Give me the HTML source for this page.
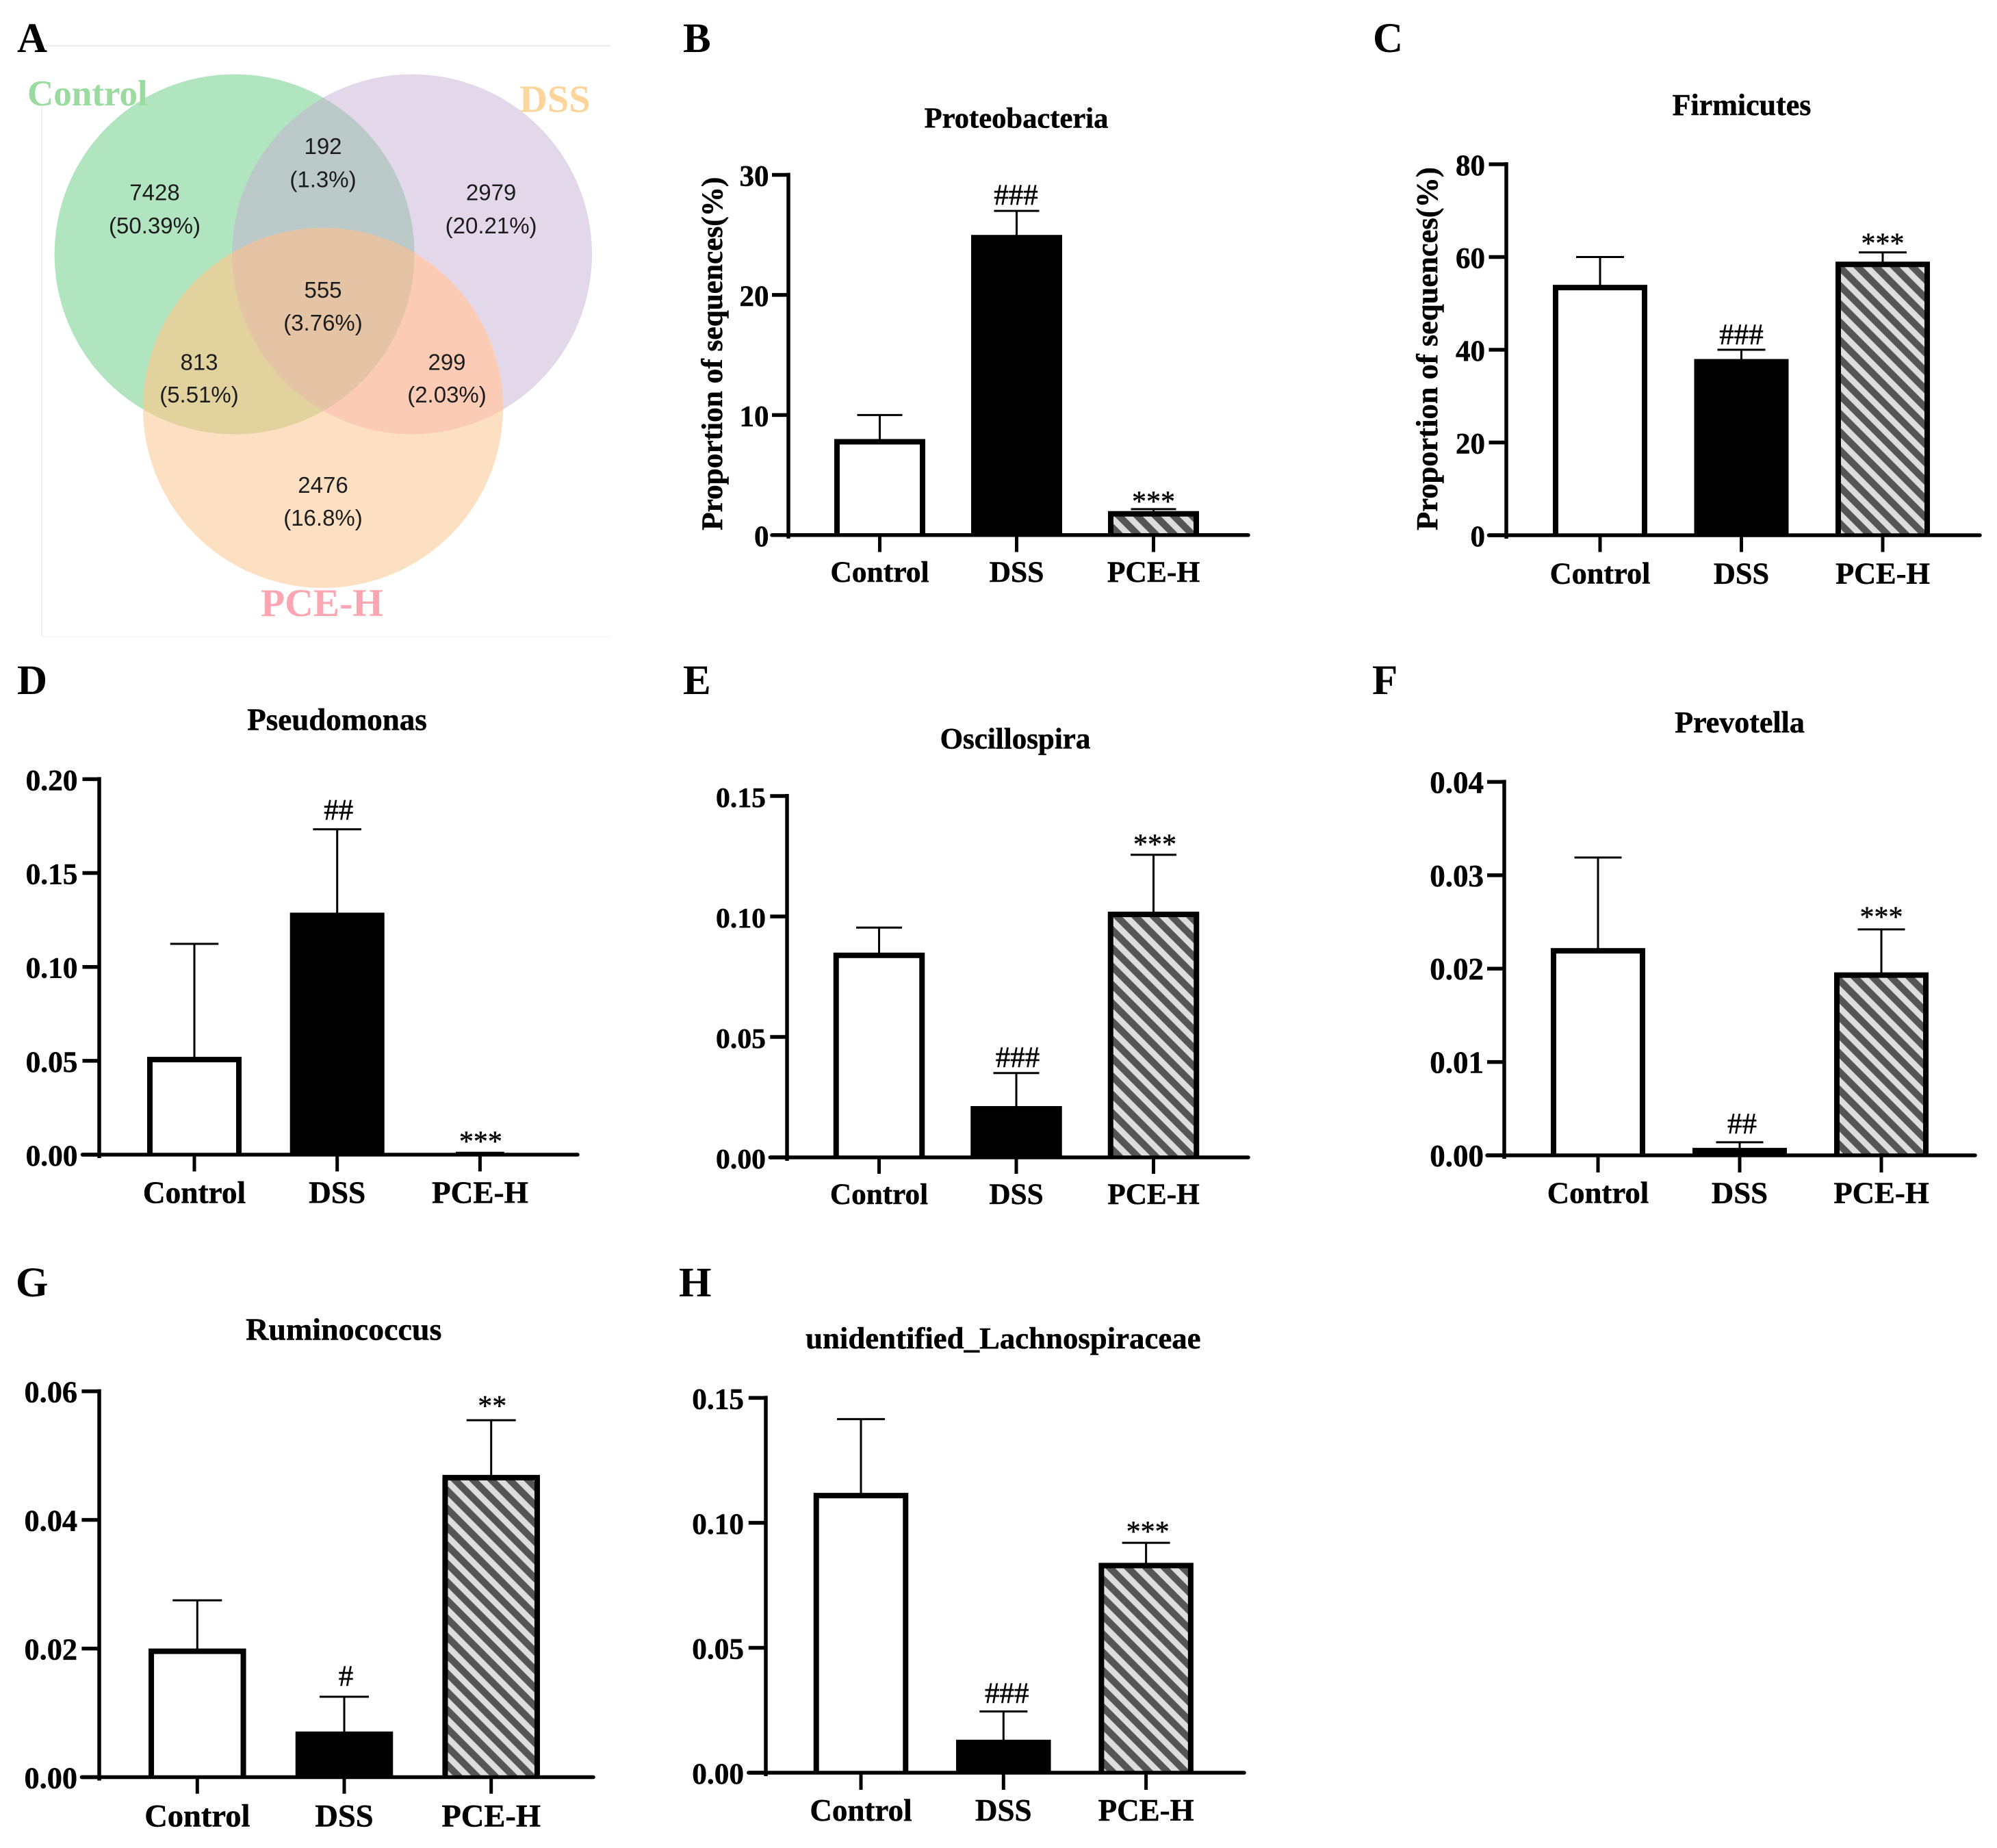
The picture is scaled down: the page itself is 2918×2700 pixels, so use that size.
<!DOCTYPE html>
<html lang="en">
<head>
<meta charset="utf-8">
<title>Microbiome composition figure</title>
<style>
  html, body { margin: 0; padding: 0; background: #ffffff; }
  #figure { display: block; width: 2918px; height: 2700px; }
  .serif { font-family: "Liberation Serif", "Times New Roman", serif; }
  .sans { font-family: "Liberation Sans", Arial, sans-serif; }
  #charts text { stroke: #000000; stroke-width: 0.5px; }
</style>
</head>
<body>
<svg id="figure" xmlns="http://www.w3.org/2000/svg" width="2918" height="2700" viewBox="0 0 2918 2700">
  <defs>
    <pattern id="hatch" patternUnits="userSpaceOnUse" width="18.9" height="18.9" patternTransform="translate(2690 391) rotate(45)">
      <rect width="18.9" height="18.9" fill="#555555"></rect>
      <rect y="5.8" width="18.9" height="8.8" fill="#dddddd"></rect>
    </pattern>
    <clipPath id="clip-control"><circle cx="342.6" cy="371.5" r="263"></circle></clipPath>
    <clipPath id="clip-dss"><circle cx="602" cy="371.5" r="263"></circle></clipPath>
    <clipPath id="clip-pce"><circle cx="472" cy="596" r="263"></circle></clipPath>
  </defs>

  <rect x="0" y="0" width="2918" height="2700" fill="#ffffff"></rect>

  <g>
    <g stroke="#e9e9e9" stroke-width="1.5" fill="none">
      <line x1="61" y1="67" x2="892" y2="67"></line>
      <line x1="61" y1="155" x2="61" y2="930"></line>
      <line x1="61" y1="930" x2="892" y2="930" stroke="#f5f5f5"></line>
    </g>
    <circle cx="342.6" cy="371.5" r="263" fill="#b0e5c0"></circle>
    <circle cx="602" cy="371.5" r="263" fill="#e2d8ea"></circle>
    <circle cx="472" cy="596" r="263" fill="#fde0c2"></circle>
    <g clip-path="url(#clip-control)"><circle cx="602" cy="371.5" r="263" fill="#bbc9c8"></circle></g>
    <g clip-path="url(#clip-control)"><circle cx="472" cy="596" r="263" fill="#e2d29e"></circle></g>
    <g clip-path="url(#clip-dss)"><circle cx="472" cy="596" r="263" fill="#fbcbb5"></circle></g>
    <g clip-path="url(#clip-control)"><g clip-path="url(#clip-dss)"><circle cx="472" cy="596" r="263" fill="#e5c4a6"></circle></g></g>

    <g class="sans" font-size="33" fill="#1c1c1c" text-anchor="middle">
      <text x="226" y="292.7">7428</text>
      <text x="226" y="341">(50.39%)</text>
      <text x="472" y="225">192</text>
      <text x="472" y="273.5">(1.3%)</text>
      <text x="717.6" y="292.7">2979</text>
      <text x="717.6" y="341">(20.21%)</text>
      <text x="472" y="435">555</text>
      <text x="472" y="483">(3.76%)</text>
      <text x="291" y="540.5">813</text>
      <text x="291" y="588">(5.51%)</text>
      <text x="653" y="540.5">299</text>
      <text x="653" y="588">(2.03%)</text>
      <text x="472" y="720">2476</text>
      <text x="472" y="768">(16.8%)</text>
    </g>
    <g class="serif" font-weight="700">
      <text x="40" y="154" font-size="53" fill="#9adb9f">Control</text>
      <text x="759" y="163.6" font-size="56.5" fill="#fdd59b">DSS</text>
      <text x="381" y="900" font-size="57.5" fill="#fda5b0">PCE-H</text>
    </g>
  </g>

  <g class="serif" font-weight="700" font-size="61" fill="#000000">
    <text x="25" y="76">A</text>
    <text x="998" y="76">B</text>
    <text x="2006" y="76">C</text>
    <text x="25" y="1014">D</text>
    <text x="998" y="1014">E</text>
    <text x="2005" y="1014">F</text>
    <text x="23" y="1894">G</text>
    <text x="992" y="1894">H</text>
  </g>

  <g id="charts"></g>
</svg>

<script>
const categories = ['Control', 'DSS', 'PCE-H'];

const proteobacteriaMeans = [8, 25, 2];
const proteobacteriaErrorTops = [10, 27, 2.16];
const proteobacteriaTicks = [0, 10, 20, 30];
const proteobacteriaTickLabels = ['0', '10', '20', '30'];
const proteobacteriaMarks = ['', '###', '***'];

const firmicutesMeans = [54, 38, 59];
const firmicutesErrorTops = [60, 40, 61];
const firmicutesTicks = [0, 20, 40, 60, 80];
const firmicutesTickLabels = ['0', '20', '40', '60', '80'];
const firmicutesMarks = ['', '###', '***'];

const pseudomonasMeans = [0.0521, 0.1289, 0.0006];
const pseudomonasErrorTops = [0.1123, 0.1733, 0.001];
const pseudomonasTicks = [0, 0.05, 0.1, 0.15, 0.2];
const pseudomonasTickLabels = ['0.00', '0.05', '0.10', '0.15', '0.20'];
const pseudomonasMarks = ['', '##', '***'];

const oscillospiraMeans = [0.085, 0.0213, 0.102];
const oscillospiraErrorTops = [0.0954, 0.035, 0.1256];
const oscillospiraTicks = [0, 0.05, 0.1, 0.15];
const oscillospiraTickLabels = ['0.00', '0.05', '0.10', '0.15'];
const oscillospiraMarks = ['', '###', '***'];

const prevotellaMeans = [0.0222, 0.0008, 0.0196];
const prevotellaErrorTops = [0.0319, 0.0014, 0.0242];
const prevotellaTicks = [0, 0.01, 0.02, 0.03, 0.04];
const prevotellaTickLabels = ['0.00', '0.01', '0.02', '0.03', '0.04'];
const prevotellaMarks = ['', '##', '***'];

const ruminococcusMeans = [0.02, 0.0071, 0.047];
const ruminococcusErrorTops = [0.0275, 0.0125, 0.0555];
const ruminococcusTicks = [0, 0.02, 0.04, 0.06];
const ruminococcusTickLabels = ['0.00', '0.02', '0.04', '0.06'];
const ruminococcusMarks = ['', '#', '**'];

const lachnospiraceaeMeans = [0.112, 0.0132, 0.084];
const lachnospiraceaeErrorTops = [0.1415, 0.0245, 0.092];
const lachnospiraceaeTicks = [0, 0.05, 0.1, 0.15];
const lachnospiraceaeTickLabels = ['0.00', '0.05', '0.10', '0.15'];
const lachnospiraceaeMarks = ['', '###', '***'];

const SVG_NS = 'http://www.w3.org/2000/svg';
const SERIF = '"Liberation Serif", "Times New Roman", serif';
const chartsRoot = document.getElementById('charts');

function make(tag, attrs, parent) {
  const node = document.createElementNS(SVG_NS, tag);
  for (const key in attrs) node.setAttribute(key, attrs[key]);
  parent.appendChild(node);
  return node;
}

function drawChart(c) {
  const group = make('g', {}, chartsRoot);
  
  

  const maxTick = c.ticks[c.ticks.length - 1];
  const yScale = function (v) { return c.y0 - (v / maxTick) * (c.y0 - c.yMax); };
  const xScale = function (i) { return c.x0 + i * c.step; };

  const title = make('text', { x: c.titleX, y: c.titleY, 'text-anchor': 'middle', 'font-family': SERIF, 'font-weight': 700, 'font-size': c.titleSize }, group);
  
  
  title.textContent = c.title;

  if (c.yTitle) {
    const yTitle = make('text', { transform: 'translate(' + c.yTitleX + ' ' + c.yTitleY + ') rotate(-90)', 'text-anchor': 'middle', 'font-family': SERIF, 'font-weight': 700, 'font-size': c.yTitleSize }, group);
    
    
    yTitle.textContent = c.yTitle;
  }

  c.means.forEach(function (mean, i) {
    const cx = xScale(i);
    const top = yScale(mean);
    const capY = yScale(c.errorTops[i]);

    const stem = make('line', { x1: cx, x2: cx, y1: capY, y2: top + 1, stroke: '#000', 'stroke-width': 3 }, group);
    
    

    const cap = make('line', { x1: cx - c.capWidth / 2, x2: cx + c.capWidth / 2, y1: capY, y2: capY, stroke: '#000', 'stroke-width': 3 }, group);
    
    

    const height = Math.max(c.y0 - top, 0);
    const bar = make('rect', { x: cx - c.barWidth / 2, y: top, width: c.barWidth, height: height, fill: '#000' }, group);
    
    

    if (i !== 1 && height > 8) {
      const inner = make('rect', { x: cx - c.barWidth / 2 + 8, y: top + 8, width: c.barWidth - 16, height: height - 8, fill: i === 0 ? '#fff' : 'url(#hatch)' }, group);
      
      
    }

    if (c.marks[i]) {
      const isHash = c.marks[i].charAt(0) === '#';
      const mark = make('text', { x: cx + c.markDx[i], y: capY - c.markGap[i], 'text-anchor': 'middle', 'font-family': SERIF, 'font-size': isHash ? 43 : 42 }, group);
      
      
      mark.textContent = c.marks[i];
    }

    const tick = make('line', { x1: cx, x2: cx, y1: c.y0, y2: c.tickBottom, stroke: '#000', 'stroke-width': 5 }, group);
    
    

    const label = make('text', { x: cx, y: c.catY, 'text-anchor': 'middle', 'font-family': SERIF, 'font-weight': 700, 'font-size': c.catSize }, group);
    
    
    label.textContent = categories[i];
  });

  const yAxis = make('line', { x1: c.axisX, x2: c.axisX, y1: c.yMax - 3, y2: c.y0 + 5, stroke: '#000', 'stroke-width': 5.5 }, group);
  
  

  const xAxis = make('line', { x1: c.tickLeft, x2: c.axisRight, y1: c.y0, y2: c.y0, stroke: '#000', 'stroke-width': 5.5, 'stroke-linecap': 'round' }, group);
  
  

  c.ticks.forEach(function (value, i) {
    const y = yScale(value);
    const tick = make('line', { x1: c.tickLeft, x2: c.axisX, y1: y, y2: y, stroke: '#000', 'stroke-width': 5.5 }, group);
    
    

    const label = make('text', { x: c.tickRight, y: y + 16, 'text-anchor': 'end', 'font-family': SERIF, 'font-weight': 700, 'font-size': c.tickSize }, group);
    
    
    label.textContent = c.tickLabels[i];
  });
}

drawChart({
  title: 'Proteobacteria', titleX: 1485, titleY: 186.6, titleSize: 42.6,
  yTitle: 'Proportion of sequences(%)', yTitleX: 1055, yTitleY: 516.7, yTitleSize: 43.3,
  means: proteobacteriaMeans, errorTops: proteobacteriaErrorTops, marks: proteobacteriaMarks,
  ticks: proteobacteriaTicks, tickLabels: proteobacteriaTickLabels,
  x0: 1285.5, step: 200, barWidth: 133, capWidth: 66,
  y0: 781.8, yMax: 255.5, axisX: 1152, tickLeft: 1128, axisRight: 1824, tickRight: 1123.5, tickBottom: 806.5,
  catY: 850, catSize: 43.5, tickSize: 43,
  markDx: [0, -1, 0], markGap: [0, 9, -2.5]
});

drawChart({
  title: 'Firmicutes', titleX: 2545, titleY: 168, titleSize: 44,
  yTitle: 'Proportion of sequences(%)', yTitleX: 2100, yTitleY: 509.5, yTitleSize: 44.5,
  means: firmicutesMeans, errorTops: firmicutesErrorTops, marks: firmicutesMarks,
  ticks: firmicutesTicks, tickLabels: firmicutesTickLabels,
  x0: 2338, step: 206.5, barWidth: 138, capWidth: 70,
  y0: 782, yMax: 240, axisX: 2201, tickLeft: 2175.5, axisRight: 2893, tickRight: 2170, tickBottom: 806.5,
  catY: 852.5, catSize: 44.3, tickSize: 43,
  markDx: [0, 0, 0], markGap: [0, 8, -1]
});

drawChart({
  title: 'Pseudomonas', titleX: 492.5, titleY: 1066.5, titleSize: 45,
  means: pseudomonasMeans, errorTops: pseudomonasErrorTops, marks: pseudomonasMarks,
  ticks: pseudomonasTicks, tickLabels: pseudomonasTickLabels,
  x0: 284, step: 208.7, barWidth: 138, capWidth: 70.6,
  y0: 1687, yMax: 1138.4, axisX: 145, tickLeft: 120.5, axisRight: 844, tickRight: 113.5, tickBottom: 1711.5,
  catY: 1757.6, catSize: 45.3, tickSize: 43.4,
  markDx: [0, 2, 1], markGap: [0, 14, 3]
});

drawChart({
  title: 'Oscillospira', titleX: 1483.5, titleY: 1093.6, titleSize: 43,
  means: oscillospiraMeans, errorTops: oscillospiraErrorTops, marks: oscillospiraMarks,
  ticks: oscillospiraTicks, tickLabels: oscillospiraTickLabels,
  x0: 1284.5, step: 200.5, barWidth: 133.5, capWidth: 67,
  y0: 1691, yMax: 1163, axisX: 1150, tickLeft: 1125.3, axisRight: 1824, tickRight: 1119, tickBottom: 1715,
  catY: 1759, catSize: 43.2, tickSize: 41.7,
  markDx: [0, 2, 2], markGap: [0, 8.6, 1.5]
});

drawChart({
  title: 'Prevotella', titleX: 2542, titleY: 1070, titleSize: 44,
  means: prevotellaMeans, errorTops: prevotellaErrorTops, marks: prevotellaMarks,
  ticks: prevotellaTicks, tickLabels: prevotellaTickLabels,
  x0: 2335, step: 207, barWidth: 138, capWidth: 69,
  y0: 1688, yMax: 1142.4, axisX: 2198, tickLeft: 2173, axisRight: 2886, tickRight: 2168, tickBottom: 1713,
  catY: 1757.6, catSize: 44.8, tickSize: 45,
  markDx: [0, 3.5, 0], markGap: [0, 13, 4.5]
});

drawChart({
  title: 'Ruminococcus', titleX: 502.3, titleY: 1957.3, titleSize: 46,
  means: ruminococcusMeans, errorTops: ruminococcusErrorTops, marks: ruminococcusMarks,
  ticks: ruminococcusTicks, tickLabels: ruminococcusTickLabels,
  x0: 288.3, step: 214.7, barWidth: 142.5, capWidth: 72,
  y0: 2596.5, yMax: 2032.7, axisX: 145, tickLeft: 119.4, axisRight: 867, tickRight: 113, tickBottom: 2620.7,
  catY: 2668.4, catSize: 46.5, tickSize: 44.3,
  markDx: [0, 2.5, 1.5], markGap: [0, 16, 7]
});

drawChart({
  title: 'unidentified_Lachnospiraceae', titleX: 1465.8, titleY: 1970, titleSize: 44.8,
  means: lachnospiraceaeMeans, errorTops: lachnospiraceaeErrorTops, marks: lachnospiraceaeMarks,
  ticks: lachnospiraceaeTicks, tickLabels: lachnospiraceaeTickLabels,
  x0: 1258, step: 208.3, barWidth: 138.5, capWidth: 70,
  y0: 2590, yMax: 2042.4, axisX: 1119, tickLeft: 1093.8, axisRight: 1818, tickRight: 1087, tickBottom: 2615,
  catY: 2660, catSize: 45, tickSize: 43.3,
  markDx: [0, 5, 2.5], markGap: [0, 12.4, 2.5]
});
</script>
</body>
</html>
